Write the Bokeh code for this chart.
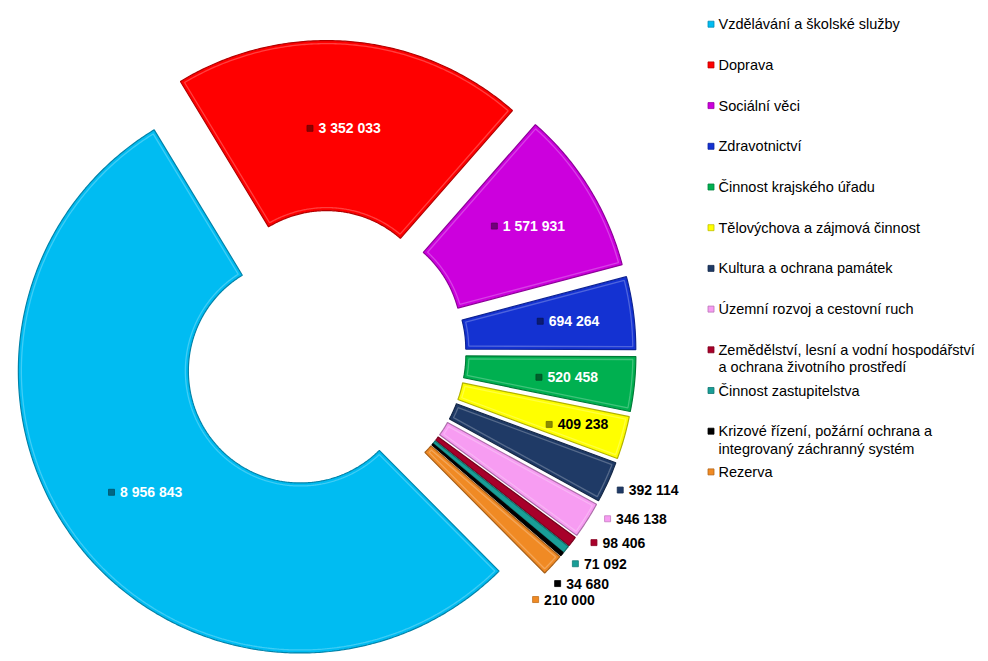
import math
import textwrap
from bokeh.plotting import figure
from bokeh.models import Range1d, ColumnDataSource
from bokeh.embed import file_html
from bokeh.resources import INLINE
from bokeh.core.properties import value

# ---------------- data ----------------
categories = [
    "Vzdělávání a školské služby",
    "Doprava",
    "Sociální věci",
    "Zdravotnictví",
    "Činnost krajského úřadu",
    "Tělovýchova a zájmová činnost",
    "Kultura a ochrana památek",
    "Územní rozvoj a cestovní ruch",
    "Zemědělství, lesní a vodní hospodářství a ochrana životního prostředí",
    "Činnost zastupitelstva",
    "Krizové řízení, požární ochrana a integrovaný záchranný systém",
    "Rezerva",
]
values = [8956843, 3352033, 1571931, 694264, 520458, 409238,
          392114, 346138, 98406, 71092, 34680, 210000]
colors = ["#00BCF2", "#FF0000", "#CC00DD", "#1432D2", "#00B050", "#FFFF00",
          "#1F3A66", "#F79CF2", "#A8002A", "#199E97", "#000000", "#F08A24"]

# ---------------- layout ----------------
W, H = 986, 659
START = 135.2               # first slice start, degrees clockwise from north
CX, CY = 323.5, H - 352.0
R_OUT, R_IN = 282.0, 112.0
EXPL = 30.0
BEVEL = 3.0
# inside labels sit on the slice bisector at these distances from the centre
label_radius_in = [227, 225, 240, 246, 244, 263]
# outside labels (small slices) are spread along an arc
label_angle_out = [113.0, 118.1, 122.9, 127.5, 131.9, 135.9]
label_radius_out = [352, 353, 350, 347, 346, 344]
label_white = [True] * 5 + [False] * 7
FONT = "Liberation Sans"


def shade(c, f):
    r, g, b = int(c[1:3], 16), int(c[3:5], 16), int(c[5:7], 16)
    return "#%02x%02x%02x" % (min(255, int(r * f)), min(255, int(g * f)), min(255, int(b * f)))


def tint(c, f):
    r, g, b = int(c[1:3], 16), int(c[3:5], 16), int(c[5:7], 16)
    return "#%02x%02x%02x" % (int(r + (255 - r) * f), int(g + (255 - g) * f), int(b + (255 - b) * f))


def sx(px):
    return px


def sy(py):
    return H - py


def ring_poly(cx, cy, a0, a1, ro, ri, do=0.0, di=0.0):
    span = a1 - a0
    n = max(2, int(span / 0.5) + 2)
    to = [math.radians(a0 + do + (a1 - a0 - 2 * do) * k / (n - 1)) for k in range(n)]
    ti = [math.radians(a0 + di + (a1 - a0 - 2 * di) * k / (n - 1)) for k in range(n)]
    px = [cx + ro * math.sin(t) for t in to] + [cx + ri * math.sin(t) for t in reversed(ti)]
    py = [cy + ro * math.cos(t) for t in to] + [cy + ri * math.cos(t) for t in reversed(ti)]
    return px, py


p = figure(width=W, height=H, x_range=Range1d(0, W), y_range=Range1d(0, H),
           x_axis_type=None, y_axis_type=None, output_backend="svg",
           toolbar_location=None, min_border=0)
p.grid.visible = False
p.outline_line_color = None
p.background_fill_color = "white"
p.border_fill_color = "white"

# ---------------- slices ----------------
total = float(sum(values))
xs, ys, mids = [], [], []
bx, by, bcol = [], [], []
a = START
for i, v in enumerate(values):
    span = 360.0 * v / total
    a0, a1 = a, a + span
    mid = (a0 + a1) / 2
    mids.append(mid)
    m = math.radians(mid)
    cx = CX + EXPL * math.sin(m)
    cy = CY + EXPL * math.cos(m)
    px, py = ring_poly(cx, cy, a0, a1, R_OUT, R_IN)
    xs.append(px)
    ys.append(py)
    if span > 3.5:
        do = math.degrees(BEVEL / (R_OUT - BEVEL))
        di = math.degrees(BEVEL / (R_IN + BEVEL))
        qx, qy = ring_poly(cx, cy, a0, a1, R_OUT - BEVEL, R_IN + BEVEL, do, di)
        bx.append(qx)
        by.append(qy)
        bcol.append(tint(colors[i], 0.45))
    a = a1

src = ColumnDataSource(dict(xs=xs, ys=ys, fill=colors,
                            line=[shade(c, 0.7) for c in colors]))
p.patches("xs", "ys", source=src, fill_color="fill", line_color="line", line_width=1.2)
p.patches(bx, by, fill_color=None, line_color=bcol, line_width=1.3, line_alpha=0.55)

# ---------------- value labels ----------------
FS = 14
lab_txt, lab_x, lab_y, lab_col = [], [], [], []
mk_x, mk_y, mk_col = [], [], []
n_in = len(label_radius_in)
for i, v in enumerate(values):
    t = f"{v:,}".replace(",", " ")
    nd = sum(ch.isdigit() for ch in t)
    ns = t.count(" ")
    w = FS * (0.556 * nd + 0.278 * ns)
    tot = 7 + 5 + w
    if i < n_in:
        ang, rad = math.radians(mids[i]), label_radius_in[i]
    else:
        ang, rad = math.radians(label_angle_out[i - n_in]), label_radius_out[i - n_in]
    lx = CX + rad * math.sin(ang)
    ly = CY + rad * math.cos(ang)
    left = lx - tot / 2
    mk_x.append(left + 3.5)
    mk_y.append(ly)
    mk_col.append(shade(colors[i], 0.55) if i < n_in else colors[i])
    lab_x.append(left + 12)
    lab_y.append(ly)
    lab_txt.append(t)
    lab_col.append("white" if label_white[i] else "black")

p.rect(mk_x, mk_y, width=6, height=6, width_units="screen", height_units="screen",
       fill_color=mk_col, line_color=[shade(c, 0.8) for c in mk_col], line_width=0.8)
p.text(lab_x, lab_y, text=lab_txt, text_color=lab_col, text_font=value(FONT),
       text_font_size=f"{FS}px", text_font_style="bold", text_baseline="middle",
       text_align="left")

# ---------------- legend ----------------
LEG_X, LEG_Y0, LEG_DY, LINE_DY = 710.5, 23.7, 40.7, 17.5
lg_tx, lg_ty, lg_t = [], [], []
lg_mx, lg_my = [], []
for i, name in enumerate(categories):
    yy = LEG_Y0 + i * LEG_DY
    lg_mx.append(sx(LEG_X))
    lg_my.append(sy(yy))
    for j, line in enumerate(textwrap.wrap(name, 39)):
        lg_tx.append(sx(718))
        lg_ty.append(sy(yy + j * LINE_DY))
        lg_t.append(line)

p.rect(lg_mx, lg_my, width=6, height=6, width_units="screen", height_units="screen",
       fill_color=colors, line_color=[shade(c, 0.75) for c in colors], line_width=0.8)
p.text(lg_tx, lg_ty, text=lg_t, text_color="black", text_font=value(FONT),
       text_font_size="14.5px", text_baseline="middle", text_align="left")

open("out.html", "w").write(file_html(p, INLINE))
